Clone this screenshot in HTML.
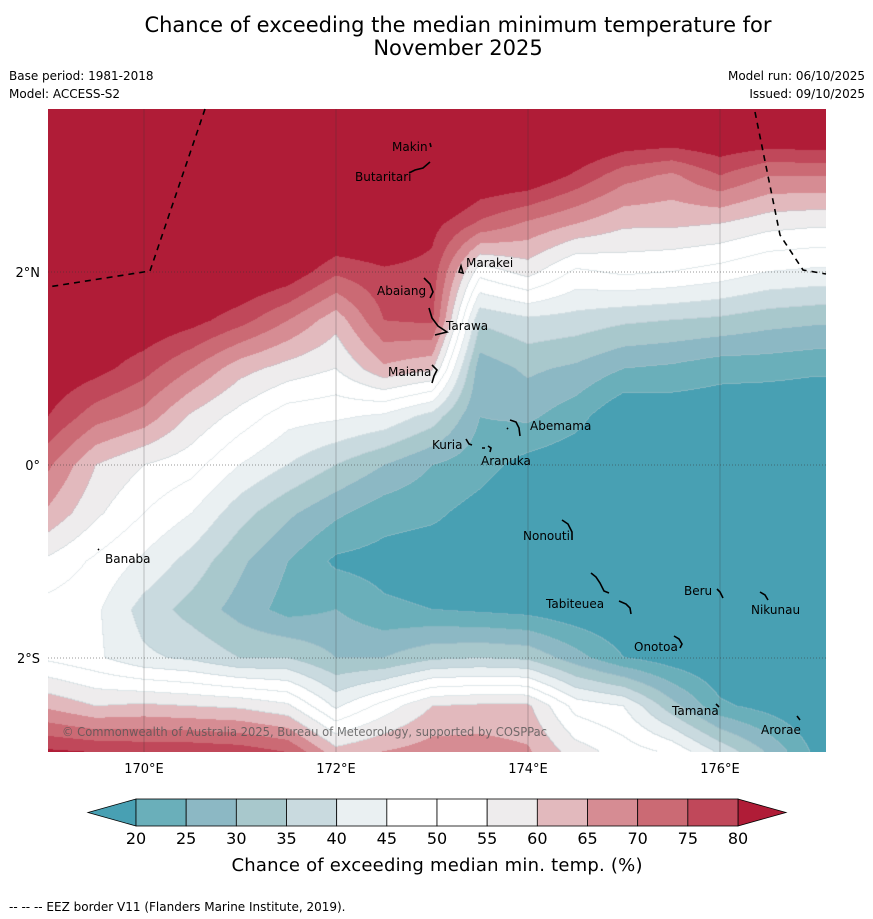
<!DOCTYPE html>
<html><head><meta charset="utf-8">
<style>
body{margin:0;background:#fff;width:873px;height:919px;overflow:hidden;position:relative;font-family:"DejaVu Sans","Liberation Sans",sans-serif;}
#map{position:absolute;left:48px;top:109px;}
#ov{position:absolute;left:0;top:0;}
</style></head>
<body>
<canvas id="map" width="778" height="643"></canvas>
<svg id="ov" width="873" height="919" xmlns="http://www.w3.org/2000/svg">
 <text x="458" y="32" text-anchor="middle" font-size="21" fill="#000">Chance of exceeding the median minimum temperature for</text>
 <text x="458" y="55" text-anchor="middle" font-size="21" fill="#000">November 2025</text>
 <text x="9" y="80" font-size="12">Base period: 1981-2018</text>
 <text x="9" y="98" font-size="12">Model: ACCESS-S2</text>
 <text x="865" y="80" font-size="12" text-anchor="end">Model run: 06/10/2025</text>
 <text x="865" y="98" font-size="12" text-anchor="end">Issued: 09/10/2025</text>
 <g id="grid"></g>
 <g id="eez" fill="none" stroke="#000" stroke-width="1.6" stroke-dasharray="6,5">
  <polyline points="205,109 150,271 48,287"/>
  <polyline points="755,112 780,235 803,270 826,274"/>
 </g>
 <g fill="none" stroke="#000" stroke-width="1.6">
  <path d="M430,143 l1,4 M409,173 l6,-3 l8,-2 l7,-6"/>
  <path d="M461,266 l-2,6 l4,1 z"/>
  <path d="M424,278 l6,6 l3,8 l-3,6"/>
  <path d="M429,308 l3,10 l6,8 l9,6 l-12,3"/>
  <path d="M432,365 l5,5 l-3,6 l-2,7"/>
  <path d="M510,420 l6,2 l3,6 l1,8 M507,428 l1,1"/>
  <path d="M466,439 l3,5 l3,1"/>
  <path d="M482,448 l3,0 M488,446 l3,2 l-1,4"/>
  <path d="M98,549 l1,1"/>
  <path d="M562,520 l6,4 l4,8 l0,8"/>
  <path d="M591,573 l5,4 l4,6 l4,8 l5,2 M619,601 l7,3 l4,4 l1,6"/>
  <path d="M717,589 l3,3 l3,6"/>
  <path d="M760,592 l5,3 l3,5"/>
  <path d="M674,636 l5,3 l3,5 l-2,4"/>
  <path d="M716,704 l3,3 M797,716 l3,4"/>
 </g>
 <g font-size="12" fill="#000">
  <text x="392" y="151">Makin</text>
  <text x="355" y="181">Butaritari</text>
  <text x="466" y="267">Marakei</text>
  <text x="377" y="295">Abaiang</text>
  <text x="446" y="330">Tarawa</text>
  <text x="388" y="376">Maiana</text>
  <text x="530" y="430">Abemama</text>
  <text x="432" y="449">Kuria</text>
  <text x="481" y="465">Aranuka</text>
  <text x="105" y="563">Banaba</text>
  <text x="523" y="540">Nonouti</text>
  <text x="684" y="595">Beru</text>
  <text x="546" y="608">Tabiteuea</text>
  <text x="751" y="614">Nikunau</text>
  <text x="634" y="651">Onotoa</text>
  <text x="672" y="715">Tamana</text>
  <text x="761" y="734">Arorae</text>
 </g>
 <text x="62" y="736" font-size="12" fill="#555" fill-opacity="0.8" textLength="485" lengthAdjust="spacingAndGlyphs">© Commonwealth of Australia 2025, Bureau of Meteorology, supported by COSPPac</text>
 <g id="axes" font-size="13" fill="#000"></g>
 <g id="cbar"></g>
 <text x="437" y="871" font-size="18" text-anchor="middle" textLength="411">Chance of exceeding median min. temp. (%)</text>
 <text x="9" y="911" font-size="12">--  --  -- EEZ border V11 (Flanders Marine Institute, 2019).</text>
</svg>
<script>
// grid coordinates
const lons = [169,169.5,170,170.5,171,171.5,172,172.5,173,173.5,174,174.5,175,175.5,176,176.5,177];
const lats = [4,3.5,3,2.5,2,1.5,1,0.5,0,-0.5,-1,-1.5,-2,-2.5,-3];
// probability (%) rows by latitude
const p_4N   = [95,95,95,95,95,95,95,95,95,95,95,95,95,95,95,95,95];
const p_3_5N = [95,95,95,95,95,95,95,95,95,93,92,90,88,88,88,88,89];
const p_3N   = [95,95,95,95,95,95,93,94,94,86,85,79,72,69,75,70,70];
const p_2_5N = [94,93,93,92,93,92,88,88,82,74,69,65,61,61,60,57,56];
const p_2N   = [92,90,90,88,87,84,76,79,78,52,57,49,51,50,48,45,44];
const p_1_5N = [88,86,85,82,77,70,62,75,76,36,39,38,36,35,34,32,31];
const p_1N   = [85,82,77,70,62,58,55,64,61,27,31,29,25,24,22,22,21];
const p_0_5N = [80,72,68,59,53,47,46,44,38,25,26,22,15,16,16,15,15];
const p_0    = [71,60,55,52,45,40,35,30,25,22,18,16,14,13,13,12,12];
const p_0_5S = [64,56,50,45,37,31,26,22,21,18,15,14,13,12,12,12,12];
const p_1S   = [54,49,44,38,31,25,19,18,17,17,15,14,13,12,12,12,12];
const p_1_5S = [48,46,38,33,28,23,25,21,20,19,18,16,15,13,12,12,12];
const p_2S   = [49,46,41,39,35,35,30,30,34,35,34,27,20,17,15,14,13];
const p_2_5S = [64,60,61,60,59,56,44,52,60,61,61,48,45,32,21,18,15];
const p_3S   = [82,81,80,80,79,76,63,66,68,68,66,58,53,50,40,30,19];
const probRows = [p_4N,p_3_5N,p_3N,p_2_5N,p_2N,p_1_5N,p_1N,p_0_5N,p_0,p_0_5S,p_1S,p_1_5S,p_2S,p_2_5S,p_3S];
// contour levels and colours
const levels = [20,25,30,35,40,45,50,55,60,65,70,75,80];
const bandColors = ['#48a0b3','#6aafba','#8cb8c4','#a8c8cc','#c9dadf','#eaf0f2','#ffffff','#ffffff','#eeeced','#e2b9bd','#d68c93','#cb6a74','#c0485a','#b01c37'];
const xTicks = [170,172,174,176];
const yTicks = [2,0,-2];
const yTickLabels = ['2°N','0°','2°S'];

const X0=48,Y0=109,W=778,H=643;
function xOf(lon){return 48+(lon-169)*96;}
function yOf(lat){return 465-lat*96.5;}
function lonOf(x){return 169+(x-48)/96;}
function latOf(y){return (465-y)/96.5;}
function sample(lon,lat){
  let fi=(lon-lons[0])/(lons[1]-lons[0]);
  let fj=(lats[0]-lat)/(lats[0]-lats[1]);
  fi=Math.max(0,Math.min(lons.length-1.0001,fi));
  fj=Math.max(0,Math.min(lats.length-1.0001,fj));
  const i=Math.floor(fi),j=Math.floor(fj),a=fi-i,b=fj-j;
  const r0=probRows[j],r1=probRows[j+1];
  return (r0[i]*(1-a)+r0[i+1]*a)*(1-b)+(r1[i]*(1-a)+r1[i+1]*a)*b;
}
function band(v){let k=0;while(k<levels.length&&v>=levels[k])k++;return k;}
function hex(c){return [parseInt(c.substr(1,2),16),parseInt(c.substr(3,2),16),parseInt(c.substr(5,2),16)];}
const rgb=bandColors.map(hex);
(function(){
  const cv=document.getElementById('map'),ctx=cv.getContext('2d');
  const img=ctx.createImageData(W,H),d=img.data;
  const B=new Uint8Array(W*H);
  for(let y=0;y<H;y++){const lat=latOf(Y0+y+0.5);
    for(let x=0;x<W;x++){B[y*W+x]=band(sample(lonOf(X0+x+0.5),lat));}}
  for(let y=0;y<H;y++)for(let x=0;x<W;x++){
    const k=B[y*W+x];let c=rgb[k];
    const kr=x+1<W?B[y*W+x+1]:k, kd=y+1<H?B[(y+1)*W+x]:k;
    let o=[c[0],c[1],c[2]];
    if((kr!==k||kd!==k)&&Math.min(k,kr,kd)<=8){o=[o[0]*0.6+176*0.4,o[1]*0.6+196*0.4,o[2]*0.6+203*0.4];}
    const p=(y*W+x)*4;d[p]=o[0];d[p+1]=o[1];d[p+2]=o[2];d[p+3]=255;}
  ctx.putImageData(img,0,0);
})();
const NS='http://www.w3.org/2000/svg';
function mk(tag,at,parent){const e=document.createElementNS(NS,tag);for(const k in at)e.setAttribute(k,at[k]);parent.appendChild(e);return e;}
const g=document.getElementById('grid'),ax=document.getElementById('axes');
xTicks.forEach(lon=>{
  const l=mk('line',{x1:xOf(lon),x2:xOf(lon),y1:109,y2:752,stroke:'#333','stroke-opacity':0.35,'stroke-width':0.8},g);
  
  
  const t=mk('text',{x:xOf(lon),y:773,'text-anchor':'middle'},ax);t.textContent=lon+'°E';
  
  
});
yTicks.forEach((lat,i)=>{
  const l=mk('line',{x1:48,x2:826,y1:yOf(lat),y2:yOf(lat),stroke:'#333','stroke-opacity':0.5,'stroke-width':1,'stroke-dasharray':'1,2'},g);
  
  
  const t=mk('text',{x:40,y:yOf(lat)+5,'text-anchor':'end'},ax);t.textContent=yTickLabels[i];
  
  
});
// colorbar
const cb=document.getElementById('cbar');
const cbX0=136,cbX1=738,cbY=799,cbH=27;
function cbx(v){return cbX0+(v-levels[0])/(levels[levels.length-1]-levels[0])*(cbX1-cbX0);}
const lt=mk('polygon',{points:`${cbX0},${cbY} ${cbX0},${cbY+cbH} 88,${cbY+cbH/2}`,fill:bandColors[0],stroke:'#000','stroke-width':0.8},cb);


const rt=mk('polygon',{points:`${cbX1},${cbY} ${cbX1},${cbY+cbH} 786,${cbY+cbH/2}`,fill:bandColors[13],stroke:'#000','stroke-width':0.8},cb);


for(let i=0;i<levels.length-1;i++){
  const r=mk('rect',{x:cbx(levels[i]),y:cbY,width:cbx(levels[i+1])-cbx(levels[i]),height:cbH,fill:bandColors[i+1],stroke:'#000','stroke-width':0.8},cb);
  
  
}
levels.forEach(v=>{
  const t=mk('text',{x:cbx(v),y:844,'text-anchor':'middle','font-size':16},cb);t.textContent=v;
  
  
});
</script>
</body></html>
